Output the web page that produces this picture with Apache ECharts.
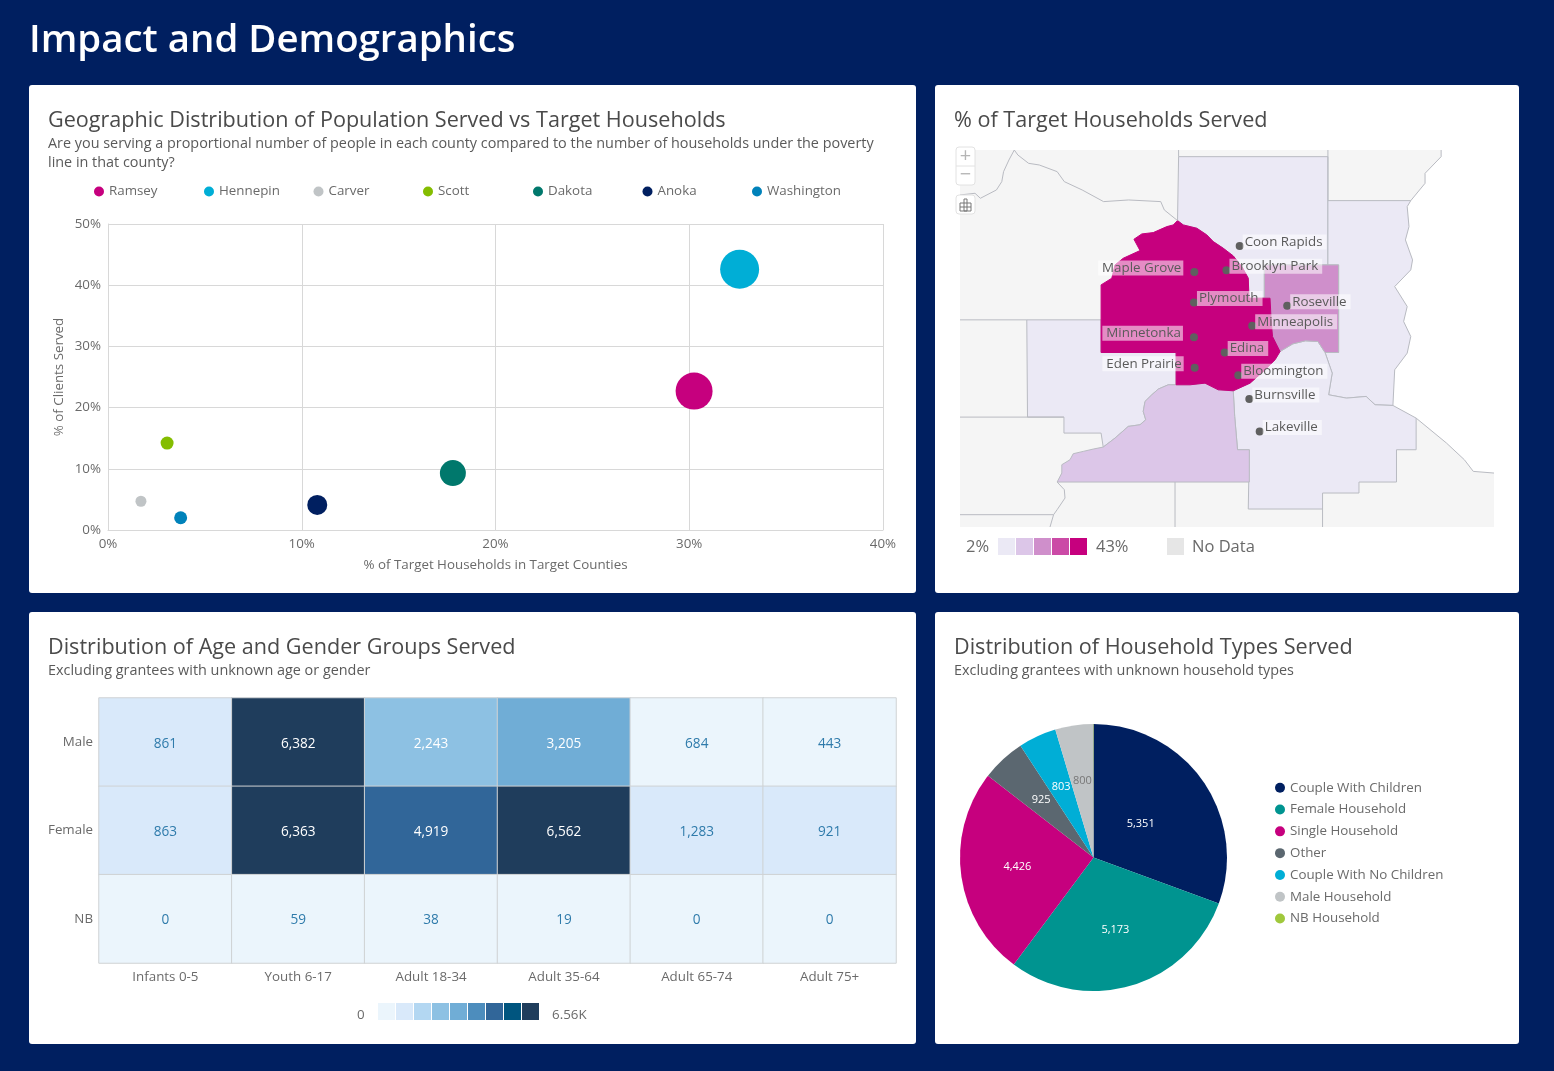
<!DOCTYPE html>
<html>
<head>
<meta charset="utf-8">
<title>Impact and Demographics</title>
<script src="https://cdn.jsdelivr.net/npm/echarts@6/dist/echarts.min.js"></script>
<style>html,body{margin:0;padding:0;background:#001f60;}#c{width:1554px;height:1071px;}</style>
</head>
<body>
<div id="c"></div>
<script>
// ---------- data ----------
const counties = ['Ramsey','Hennepin','Carver','Scott','Dakota','Anoka','Washington'];
const countyColors = ['#c6007e','#00aed6','#c0c4c6','#84bd00','#00786c','#001f60','#0082ba'];
const targetPct = [30.25,32.6,1.7,3.05,17.8,10.8,3.75];
const clientPct = [22.7,42.6,4.7,14.2,9.3,4.1,2.0];
const bubbleSize = [37,39,11,13,26,20,13];
const mapValues = {Ramsey:22.7,Hennepin:42.6,Carver:4.7,Scott:14.2,Dakota:9.3,Anoka:4.1,Washington:2.0};

const ages = ['Infants 0-5','Youth 6-17','Adult 18-34','Adult 35-64','Adult 65-74','Adult 75+'];
const genders = ['Male','Female','NB'];
const maleCounts = [861,6382,2243,3205,684,443];
const femaleCounts = [863,6363,4919,6562,1283,921];
const nbCounts = [0,59,38,19,0,0];

const householdNames = ['Couple With Children','Female Household','Single Household','Other','Couple With No Children','Male Household','NB Household'];
const householdCounts = [5351,5173,4426,925,803,800,8];
const householdColors = ['#001f60','#009490','#c6007e','#5b6770','#00aed6','#c0c4c6','#a0c83c'];

const cityNames = ['Coon Rapids','Brooklyn Park','Maple Grove','Plymouth','Roseville','Minneapolis','Minnetonka','Edina','Eden Prairie','Bloomington','Burnsville','Lakeville'];
const cityCoords = [[811,318],[774,391],[684,396],[683,488],[944,498],[846,558],[683,592],[769,638],[685,684],[807,706],[838,778],[867,875]];
const citiesLabelledLeft = ['Maple Grove','Minnetonka','Eden Prairie'];

// ---------- map shapes (traced outline of the counties) ----------
const minnesotaRiver = [[633,735],[611,735],[583,748],[565,765],[546,785],[541,815],[548,840],[532,855],[499,860],[462,895],[429,922]];
const lowerRiver = [[429,922],[401,928],[373,935],[345,942],[336,960],[313,975],[313,1000],[300,1027]];
const ring = {
  Frame:[[28,30],[1523,30],[1523,1162],[28,1162]],
  Outside:[[1375,30],[1523,30],[1523,1000],[1465,995],[1440,960],[1390,910],[1305,835],[1240,797],[1245,690],[1280,640],[1290,590],[1270,545],[1280,500],[1245,440],[1290,390],[1295,360],[1275,300],[1285,260],[1280,200],[1290,182],[1330,130],[1330,100],[1375,50]],
  Anoka:[[640,50],[1058,50],[1058,375],[880,375],[880,475],[837,475],[835,415],[817,380],[793,348],[765,325],[737,305],[719,285],[691,265],[653,255],[637,242]],
  Washington:[[1058,182],[1290,182],[1280,200],[1285,260],[1275,300],[1295,360],[1290,390],[1245,440],[1280,500],[1270,545],[1290,590],[1280,640],[1245,690],[1240,797],[1190,795],[1165,770],[1110,775],[1060,765],[1070,700],[1050,638],[1088,638],[1088,375],[1058,375]],
  Dakota:[[924,635],[960,612],[995,603],[1030,605],[1050,638],[1070,700],[1060,765],[1110,775],[1165,770],[1190,795],[1240,797],[1305,835],[1305,930],[1250,930],[1250,1027],[1145,1027],[1145,1060],[1043,1060],[1043,1108],[835,1108],[838,930],[805,930],[797,830],[793,753],[840,730],[877,695],[910,660]],
  Carver:[[215,540],[423,540],[423,638],[633,638],[633,735]].concat(minnesotaRiver.slice(1),[[423,880],[319,880],[319,832],[217,832]]),
  Scott:[[633,735],[672,735],[714,730],[751,750],[793,753],[797,830],[805,930],[838,930],[838,1027]].concat(lowerRiver.slice().reverse(),minnesotaRiver.slice(1,-1).reverse()),
  Ramsey:[[880,375],[1088,375],[1088,638],[1050,638],[1030,605],[995,603],[960,612],[924,635],[903,590],[899,540],[896,475],[880,475]],
  Hennepin:[[637,242],[653,255],[691,265],[719,285],[737,305],[765,325],[793,348],[817,380],[835,415],[837,475],[896,475],[899,540],[903,590],[924,635],[910,660],[877,695],[840,730],[793,753],[751,750],[714,730],[672,735],[633,735],[633,638],[423,638],[423,435],[453,415],[462,375],[485,355],[532,332],[515,298],[537,282],[569,278],[607,260],[625,255]]
};
const borderLines = [
  [[28,165],[70,160],[85,175],[130,150],[145,125],[150,95],[165,60],[180,30],[190,45],[220,70],[250,75],[300,95],[320,125],[370,150],[430,185],[500,180],[590,185],[600,210],[637,242]],
  [[640,30],[640,50]],[[1058,30],[1058,182]],
  [[28,540],[215,540]],[[28,832],[319,832]],
  [[300,1027],[300,1030],[320,1050],[322,1075],[300,1110],[290,1125],[280,1162]],
  [[28,1125],[290,1125]],[[630,1027],[630,1162]],[[1043,1108],[1043,1162]],
  [[1290,182],[1330,130],[1330,100],[1375,50],[1375,30]],
  [[1305,835],[1390,910],[1440,960],[1465,995],[1523,1000]]
];
const mapFeatures = Object.keys(ring).map(n => ({type:'Feature',properties:{name:n},geometry:{type:'Polygon',coordinates:[ring[n].concat([ring[n][0]])]}}))
  .concat(borderLines.map((l,i) => ({type:'Feature',properties:{name:'line'+i},geometry:{type:'LineString',coordinates:l}})));
echarts.registerMap('metro',{type:'FeatureCollection',features:mapFeatures});

// ---------- layout helpers ----------
const FONT = '"Open Sans","Noto Sans",sans-serif';
const panel = (x,y,w,h) => ({type:'rect',z:-10,silent:true,shape:{x,y,width:w,height:h,r:3},style:{fill:'#fff'}});
const txt = (x,y,s,size,color,extra) => ({type:'text',z:25,silent:true,x,y,style:Object.assign({text:s,fontFamily:FONT,fontSize:size,fill:color,textVerticalAlign:'middle'},extra||{})});
const TITLE='#4a4a4a', SUB='#5a5a5a', TICK='#6a6a6a', TS=13.35, HS=21.6, SS=14.4;

const heatData = [];
[maleCounts,femaleCounts,nbCounts].forEach((row,r)=>row.forEach((v,c)=>heatData.push({
  value:[c,r,v],
  label:{color: v>=1500 ? '#ffffff' : '#2f7bab'}
})));

const pieLabelPush = {0:[-10,6.5],1:[2,6],2:[-7,0],3:[-5,-6],4:[-3,-7],5:[-1,-8]};

const legendLefts = [89,199,308.5,418,528,637.5,747];

const option = {
  animation:false,
  backgroundColor:'#001f60',
  textStyle:{fontFamily:FONT},
  graphic:[
    panel(29,85,887,508),panel(935,85,584,508),panel(29,612,887,432),panel(935,612,584,432),
    txt(29,41,'Impact and Demographics',38.4,'#ffffff',{fontWeight:600}),
    txt(48,121,'Geographic Distribution of Population Served vs Target Households',HS,TITLE),
    txt(48,144,'Are you serving a proportional number of people in each county compared to the number of households under the poverty',SS,SUB),
    txt(48,163,'line in that county?',SS,SUB),
    txt(954,121,'% of Target Households Served',HS,TITLE),
    txt(48,648,'Distribution of Age and Gender Groups Served',HS,TITLE),
    txt(48,671,'Excluding grantees with unknown age or gender',SS,SUB),
    txt(954,648,'Distribution of Household Types Served',HS,TITLE),
    txt(954,671,'Excluding grantees with unknown household types',SS,SUB),
    // map widgets
    {type:'rect',z:20,silent:true,shape:{x:956,y:147,width:19,height:38,r:3},style:{fill:'#fff',stroke:'#e2e2e2'}},
    {type:'line',z:21,silent:true,shape:{x1:956,y1:166,x2:975,y2:166},style:{stroke:'#e2e2e2'}},
    txt(965.5,156,'+',20,'#b5b5b5',{textAlign:'center'}),
    txt(965.5,175,'−',20,'#b5b5b5',{textAlign:'center'}),
    {type:'rect',z:20,silent:true,shape:{x:956,y:195,width:19,height:19,r:3},style:{fill:'#fff',stroke:'#e2e2e2'}},
    {type:'rect',z:21,silent:true,shape:{x:960,y:203,width:11,height:8},style:{fill:'none',stroke:'#777',lineWidth:1}},
    {type:'rect',z:21,silent:true,shape:{x:964,y:199,width:3,height:12},style:{fill:'none',stroke:'#777',lineWidth:1}},
    {type:'line',z:21,silent:true,shape:{x1:960,y1:207,x2:971,y2:207},style:{stroke:'#777'}},
    // map key
    txt(966,547,'2%',16.5,'#6a6a6a'),
    txt(1096,547,'43%',16.5,'#6a6a6a'),
    {type:'rect',z:5,silent:true,shape:{x:1167,y:538,width:17,height:17},style:{fill:'#e6e6e6'}},
    txt(1192,547,'No Data',16.5,'#6a6a6a'),
    // heat key
    txt(357,1015,'0',TS,'#6a6a6a'),
    txt(552,1015,'6.56K',TS,'#6a6a6a')
  ],
  grid:[
    {id:'scatter',left:108,top:224,width:775,height:306,containLabel:false},
    {id:'heat',left:99,top:698,width:797,height:265,containLabel:false}
  ],
  xAxis:[
    {type:'value',gridIndex:0,min:0,max:40,interval:10,
     name:'% of Target Households in Target Counties',nameLocation:'middle',nameGap:29,
     nameTextStyle:{color:TICK,fontSize:TS,fontFamily:FONT},
     axisLabel:{formatter:'{value}%',color:TICK,fontSize:TS,fontFamily:FONT,margin:8},
     axisLine:{show:true,lineStyle:{color:'#d8d8d8'}},axisTick:{show:false},
     splitLine:{show:true,lineStyle:{color:'#d8d8d8',width:1}}},
    {type:'category',gridIndex:1,data:ages,
     axisLabel:{color:TICK,fontSize:TS,fontFamily:FONT,margin:8},
     axisLine:{show:false},axisTick:{show:false},splitLine:{show:false}}
  ],
  yAxis:[
    {type:'value',gridIndex:0,min:0,max:50,interval:10,
     name:'% of Clients Served',nameLocation:'middle',nameGap:42,nameRotate:90,
     nameTextStyle:{color:TICK,fontSize:TS,fontFamily:FONT},
     axisLabel:{formatter:'{value}%',color:TICK,fontSize:TS,fontFamily:FONT,margin:7,padding:[2,0,0,0]},
     axisLine:{show:true,lineStyle:{color:'#d8d8d8'}},axisTick:{show:false},
     splitLine:{show:true,lineStyle:{color:'#d8d8d8',width:1}}},
    {type:'category',gridIndex:1,data:genders,inverse:true,
     axisLabel:{color:TICK,fontSize:TS,fontFamily:FONT,margin:6},
     axisLine:{show:false},axisTick:{show:false},splitLine:{show:false}}
  ],
  legend:[
    ...counties.map((n,i)=>({id:'county'+i,data:[n],left:legendLefts[i],top:180,orient:'horizontal',icon:'circle',itemWidth:10,itemHeight:10,
      selectedMode:false,textStyle:{color:TICK,fontSize:TS,fontFamily:FONT}})),
    {id:'households',data:householdNames,left:1270,top:774,orient:'vertical',icon:'circle',itemWidth:10,itemHeight:10,itemGap:4.3,
     selectedMode:false,textStyle:{color:TICK,fontSize:TS,fontFamily:FONT,lineHeight:17.5}}
  ],
  geo:{
    map:'metro',silent:true,roam:false,left:960,top:150,width:534,height:377,
    projection:{project:p=>[p[0]/2.8,p[1]/3],unproject:p=>[p[0]*2.8,p[1]*3]},
    itemStyle:{areaColor:'#f5f5f5',borderColor:'#b9bbc2',borderWidth:1},
    emphasis:{disabled:true},select:{disabled:true},label:{show:false},
    regions:[
      {name:'Frame',itemStyle:{areaColor:'#f5f5f5',borderWidth:0}},
      {name:'Outside',itemStyle:{areaColor:'#ffffff',borderWidth:0}},
      {name:'Hennepin',itemStyle:{borderColor:'#c6007e'}}
    ]
  },
  visualMap:[
    {type:'piecewise',seriesIndex:7,orient:'horizontal',left:998,top:538,padding:0,itemWidth:17,itemHeight:17,itemGap:1,itemSymbol:'rect',
     showLabel:false,hoverLink:false,selectedMode:false,
     pieces:[{gte:2,lt:10.2,color:'#ebe9f5'},{gte:10.2,lt:18.4,color:'#dcc6e8'},{gte:18.4,lt:26.6,color:'#cf8fcb'},{gte:26.6,lt:34.8,color:'#cb4aa6'},{gte:34.8,lte:43,color:'#c6007e'}]},
    {type:'piecewise',seriesIndex:8,dimension:2,orient:'horizontal',left:378,top:1003,padding:0,itemWidth:17,itemHeight:17,itemGap:1,itemSymbol:'rect',
     showLabel:false,hoverLink:false,selectedMode:false,
     pieces:['#ebf5fc','#d9e9fa','#b3d7f2','#8dc1e3','#70add6','#4d8dbd','#316699','#00557f','#1f3d5c'].map((color,i)=>({gte:i*729,lt:i===8?6600:(i+1)*729,color}))}
  ],
  series:[
    ...counties.map((n,i)=>({
      type:'scatter',name:n,xAxisIndex:0,yAxisIndex:0,z:3,
      data:[[targetPct[i],clientPct[i],bubbleSize[i]]],
      symbolSize:d=>d[2],itemStyle:{color:countyColors[i],opacity:1},silent:true
    })),
    {type:'map',geoIndex:0,silent:true,data:Object.keys(mapValues).map(name=>({name,value:mapValues[name]}))},
    {type:'heatmap',xAxisIndex:1,yAxisIndex:1,data:heatData,silent:true,
     encode:{x:0,y:1,value:2},
     label:{show:true,fontSize:13.6,fontWeight:500,fontFamily:FONT,offset:[0,1.5],formatter:p=>p.value[2].toLocaleString('en-US')},
     itemStyle:{borderColor:'#cfd2d4',borderWidth:1},emphasis:{disabled:true}},
    {type:'pie',center:[1093.5,857.5],radius:[0,133.5],startAngle:90,clockwise:true,silent:true,
     minAngle:0,avoidLabelOverlap:false,
     color:householdColors,
     itemStyle:{borderColor:'#fff',borderWidth:0},
     label:{show:true,position:'inside',fontSize:11,fontFamily:FONT,color:'#fff',
       formatter:p=>p.value>=50?p.value.toLocaleString('en-US'):''},
     labelLayout:p=>{const o=pieLabelPush[p.dataIndex]||[0,0];return {dx:o[0],dy:o[1]};},
     labelLine:{show:false},
     data:householdNames.map((name,i)=>({name,value:householdCounts[i],
       label:name==='Male Household'?{color:'#777'}:undefined}))},
    {type:'scatter',coordinateSystem:'geo',geoIndex:0,z:6,silent:true,symbol:'circle',symbolSize:8,
     itemStyle:{color:'#5f5f5f',opacity:1},
     data:cityNames.map((name,i)=>{
       const left=citiesLabelledLeft.includes(name);
       return {name,value:cityCoords[i],label:{position:left?'left':'right',distance:left?7:-1,padding:left?[1,2,1,4]:[1,4,1,2]}};
     }),
     label:{show:true,formatter:'{b}',fontSize:TS,fontFamily:FONT,color:'#5a5a5a',backgroundColor:'rgba(255,255,255,0.55)',offset:[0,-4]}}
  ]
};
const chart = echarts.init(document.getElementById('c'),null,{renderer:'canvas',width:1554,height:1071});
chart.setOption(option);
</script>
</body>
</html>
